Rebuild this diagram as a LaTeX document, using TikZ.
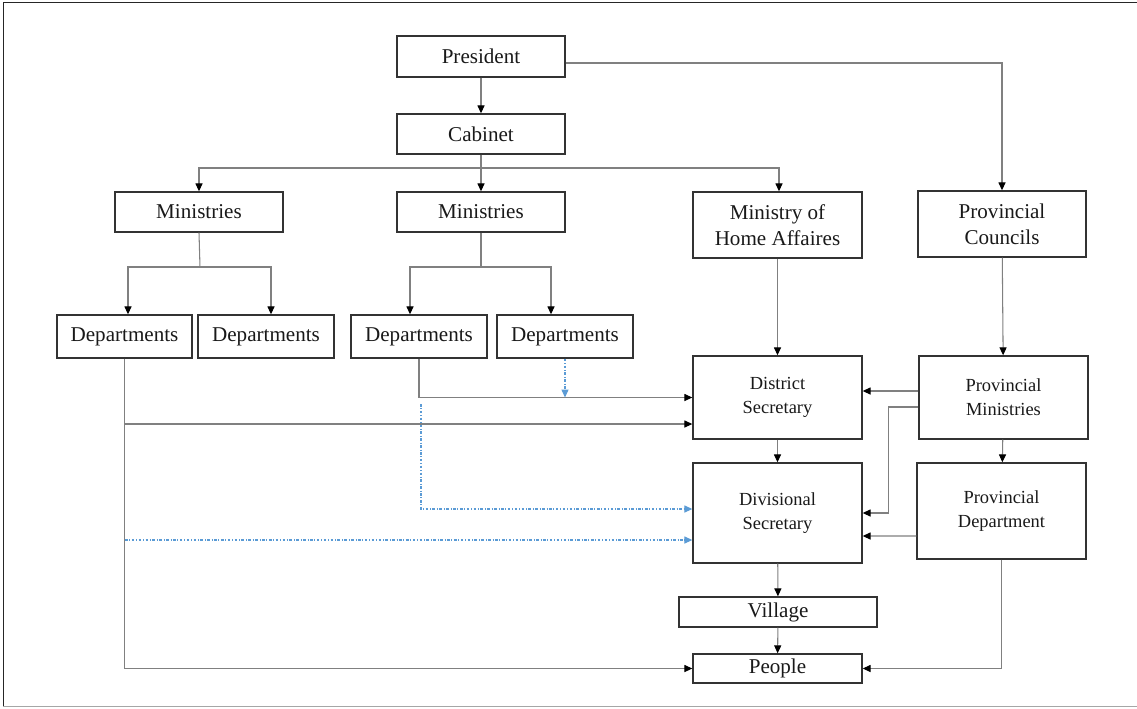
\documentclass[tikz,border=0pt]{standalone}
\usepackage{fontspec}
\setmainfont{Liberation Serif}
\usepackage{xcolor}
\usetikzlibrary{arrows.meta}
\definecolor{dotblue}{HTML}{5B9BD5}
\tikzset{
  box/.style={draw=black!80, line width=0.8pt, inner sep=0pt, align=center, text=black!90,
    font=\fontsize{12}{14.6}\selectfont},
  smallbox/.style={box, font=\fontsize{10.5}{13.6}\selectfont},
  plain/.style={draw=black!50, line width=0.6pt},
  link/.style={plain, -{Triangle[color=black,length=4.5pt,width=4pt]}},
  dotlink/.style={draw=dotblue, line width=0.6pt, dash pattern=on 1.5pt off 1pt on 0.4pt off 1pt,
    -{Triangle[length=4.5pt,width=4pt]}}
}
\begin{document}
\begin{tikzpicture}[x=0.02cm,y=-0.02cm]
      \useasboundingbox (0,0) rectangle (1137,708);
      \draw [black!85, line width=1pt] (1137,2.5) -- (3.5,2.5) -- (3.5,706.5);
      \draw [black!35, line width=0.8pt] (3.5,706.5) -- (1137,706.5);
      % top of the tree
      \node[box, minimum width=3.36cm, minimum height=0.82cm] (pres) at (481,56.5) {President};
      \node[box, minimum width=3.36cm, minimum height=0.80cm] (cab) at (481,134) {Cabinet};
      \node[box, minimum width=3.36cm, minimum height=0.80cm] (minL) at (199,212) {Ministries};
      \node[box, minimum width=3.36cm, minimum height=0.80cm] (minM) at (481,212) {Ministries};
      \node[box, minimum width=3.38cm, minimum height=1.32cm] (home) at (777.5,225) {Ministry of\\Home Affaires};
      \node[box, minimum width=3.36cm, minimum height=1.32cm] (pcoun) at (1002,224) {Provincial\\Councils};
      % departments
      \node[box, minimum width=2.70cm, minimum height=0.86cm] (dep1) at (124.5,336.5) {Departments};
      \node[box, minimum width=2.72cm, minimum height=0.86cm] (dep2) at (266,336.5) {Departments};
      \node[box, minimum width=2.72cm, minimum height=0.86cm] (dep3) at (419,336.5) {Departments};
      \node[box, minimum width=2.72cm, minimum height=0.86cm] (dep4) at (565,336.5) {Departments};
      % district level
      \node[smallbox, minimum width=3.38cm, minimum height=1.66cm] (dist) at (777.5,397.5) {District\\Secretary};
      \node[smallbox, minimum width=3.38cm, minimum height=2.00cm] (divs) at (777.5,513) {Divisional\\Secretary};
      \node[smallbox, minimum width=3.38cm, minimum height=1.66cm] (pmin) at (1003.5,397.5) {Provincial\\Ministries};
      \node[smallbox, minimum width=3.38cm, minimum height=1.92cm] (pdep) at (1001.5,511) {Provincial\\Department};
      \node[box, minimum width=3.96cm, minimum height=0.60cm] (vill) at (778,612) {Village};
      \node[box, minimum width=3.38cm, minimum height=0.58cm] (ppl) at (777.5,668.5) {People};
      % connectors
      \coordinate (cabj) at (481,168);
      \coordinate (minLj) at (200,267);
      \coordinate (minMj) at (481,267);
      \coordinate (t1) at (125,424);
      \coordinate (t2) at (125,540);
      \coordinate (t3) at (421,404);
      \coordinate (t4) at (421,509);
      \draw[link] (pres) -- (cab);
      \draw[link] ([yshift=-0.13cm]pres.east) -| (pcoun.north);
      \draw[plain] (cab.south) -- (cabj);
      \draw[link] (cabj) -| (minL.north);
      \draw[link] (cabj) -- (minM.north);
      \draw[link] (cabj) -| ([xshift=0.03cm]home.north);
      \draw[plain] (minL.south) -- (minLj);
      \draw[link] (minLj) -| ([xshift=0.07cm]dep1.north);
      \draw[link] (minLj) -| ([xshift=0.1cm]dep2.north);
      \draw[plain] (minM.south) -- (minMj);
      \draw[link] (minMj) -| ([xshift=-0.18cm]dep3.north);
      \draw[link] (minMj) -| ([xshift=-0.28cm]dep4.north);
      \draw[link] (home) -- (dist);
      \draw[link] (pcoun) -- (pmin);
      \draw[link] (dist) -- (divs);
      \draw[link] (pmin) -- (pdep);
      \draw[link] (divs) -- (vill);
      \draw[link] (vill) -- (ppl);
      \draw[link] (dep3.south) |- (dist.west);
      \draw[dotlink] (dep4.south) -- (dep4.south |- dist.west);
      \draw[link] (dep1.south) |- (ppl.west);
      \draw[link] (t1) -- (t1 -| dist.west);
      \draw[dotlink] (t2) -- (t2 -| divs.west);
      \draw[dotlink] (t3) |- (t4 -| divs.west);
      \draw[link] ([yshift=0.13cm]pmin.west) -- ([yshift=0.13cm]dist.east);
      \draw[link] ([yshift=-0.19cm]pmin.west) -- ++(-30,0) |- (divs.east);
      \draw[link] ([yshift=-0.5cm]pdep.west) -- ([yshift=-0.46cm]divs.east);
      \draw[link] (pdep.south) |- (ppl.east);
\end{tikzpicture}
\end{document}
